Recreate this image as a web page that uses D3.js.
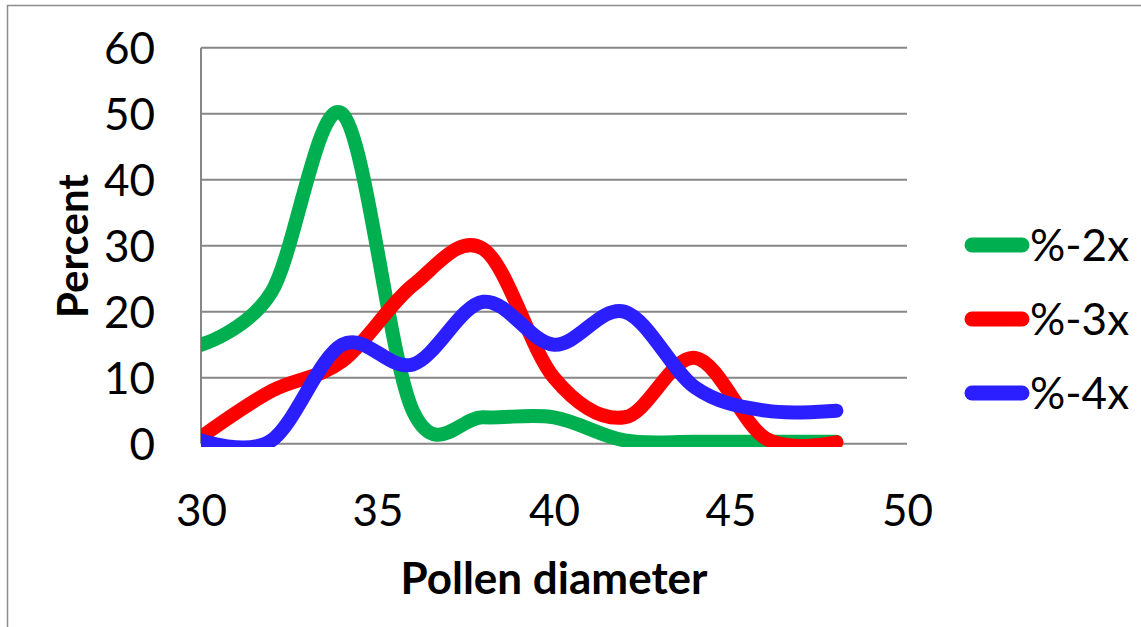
<!DOCTYPE html>
<html>
<head>
<meta charset="utf-8">
<script src="https://cdn.jsdelivr.net/npm/d3@7"></script>
<style>
  html, body { margin: 0; padding: 0; background: #fff; }
  svg { display: block; }
  text { font-family: Lato, "Open Sans", sans-serif; fill: #000; }
</style>
</head>
<body>
<svg id="chart" width="1141" height="627"></svg>
<script>
// ---- data ----
const diameters = [30, 32, 34, 36, 38, 40, 42, 44, 46, 48];
const pct2x = [15, 23, 50, 5, 4, 4, 0.5, 0.3, 0.3, 0.3];
const pct3x = [1, 8, 12.5, 24, 29.5, 10, 4, 13, 0.8, 0.2];
const pct4x = [0.5, 0.5, 15, 12, 21.5, 15, 20, 8.5, 5, 5];
const seriesNames = ["%-2x", "%-3x", "%-4x"];
const seriesColors = ["#00B050", "#FF0000", "#2B1FFF"];
const xTicks = [30, 35, 40, 45, 50];
const yTicks = [0, 10, 20, 30, 40, 50, 60];
const xTitle = "Pollen diameter";
const yTitle = "Percent";

const series = [pct2x, pct3x, pct4x].map((vals, i) => ({
  name: seriesNames[i], color: seriesColors[i],
  points: vals.map((v, j) => ({x: diameters[j], y: v}))
}));

const svg = d3.select("#chart");

// outer chart border (only left and top visible)
svg.append("rect")
  .attr("x", 7.5).attr("y", 5.5)
  .attr("width", 1200).attr("height", 700)
  .attr("fill", "none").attr("stroke", "#8c8c8c").attr("stroke-width", 1.5);

const x = d3.scaleLinear().domain([30, 50]).range([201, 907]);
const y = d3.scaleLinear().domain([0, 60]).range([443.7, 47.7]);

// gridlines
svg.append("g")
  .selectAll("line").data(yTicks).join("line")
  .attr("x1", x(30)).attr("x2", x(50))
  .attr("y1", d => y(d)).attr("y2", d => y(d))
  .attr("stroke", "#878787").attr("stroke-width", 2);

// y axis line
svg.append("line")
  .attr("x1", x(30)).attr("x2", x(30))
  .attr("y1", y(60)).attr("y2", y(0))
  .attr("stroke", "#878787").attr("stroke-width", 2);

// y tick labels
const yAxis = d3.axisLeft(y).tickValues(yTicks).tickSize(0).tickPadding(0).tickFormat(d3.format("d"));
const gy = svg.append("g").attr("transform", "translate(155,0)").call(yAxis);
gy.select(".domain").remove();
gy.selectAll("text").attr("font-size", 44).attr("font-family", "Lato").attr("fill", "#000").attr("dy", "0.36em");

// x tick labels
const xAxis = d3.axisBottom(x).tickValues(xTicks).tickSize(0).tickPadding(0).tickFormat(d3.format("d"));
const gx = svg.append("g").attr("transform", "translate(0,494)").call(xAxis);
gx.select(".domain").remove();
gx.selectAll("text").attr("font-size", 44).attr("font-family", "Lato").attr("fill", "#000").attr("dy", "0.72em");

// axis titles
svg.append("text")
  .attr("x", 554).attr("y", 594)
  .attr("text-anchor", "middle")
  .attr("font-size", 44).attr("font-weight", "bold")
  .text(xTitle);

svg.append("text")
  .attr("transform", "translate(88,246) rotate(-90)")
  .attr("text-anchor", "middle")
  .attr("font-size", 42).attr("font-weight", "bold")
  .text(yTitle);

// clip for plot area
svg.append("defs").append("clipPath").attr("id", "plotclip")
  .append("rect").attr("x", 201).attr("y", 20).attr("width", 720).attr("height", 427);

const line = d3.line()
  .x(d => x(d.x)).y(d => y(d.y))
  .curve(d3.curveCatmullRom.alpha(0));

svg.append("g").attr("clip-path", "url(#plotclip)")
  .selectAll("path").data(series).join("path")
  .attr("d", d => line(d.points))
  .attr("fill", "none")
  .attr("stroke", d => d.color)
  .attr("stroke-width", 14)
  .attr("stroke-linecap", "round")
  .attr("stroke-linejoin", "round");

// legend
const legY = [245, 319, 393];
const leg = svg.append("g").selectAll("g").data(series).join("g")
  .attr("transform", (d, i) => `translate(0,${legY[i]})`);
leg.append("line")
  .attr("x1", 972).attr("x2", 1022).attr("y1", 0).attr("y2", 0)
  .attr("stroke", d => d.color).attr("stroke-width", 15).attr("stroke-linecap", "round");
leg.append("text")
  .attr("x", 1030).attr("y", 0).attr("dy", "0.36em")
  .attr("font-size", 44)
  .text(d => d.name);
</script>
</body>
</html>
